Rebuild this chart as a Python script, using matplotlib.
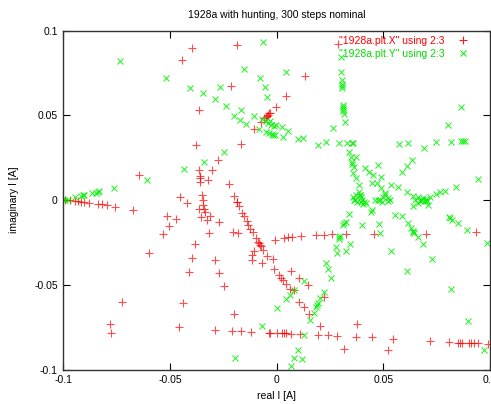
import matplotlib
matplotlib.use("Agg")
import matplotlib.pyplot as plt

title = "1928a with hunting, 300 steps nominal"
xlabel = "real I [A]"
ylabel = "imaginary I [A]"
label_x = "\"1928a.plt.X\" using 2:3"
label_y = "\"1928a.plt.Y\" using 2:3"
xticks = [-0.1, -0.05, 0, 0.05, 0.1]
xticklabels = ["-0.1", "-0.05", "0", "0.05", "0.1"]
yticks = [-0.1, -0.05, 0, 0.05, 0.1]
yticklabels = ["-0.1", "-0.05", "0", "0.05", "0.1"]

# series X (red +)
x_re = [-0.0395, -0.0188, -0.0443, -0.0216, -0.0363, -0.0058, -0.0047, -0.0036, -0.0003, -0.0104,
        -0.0074, -0.0376, -0.0166, -0.0274, -0.0364, -0.0302, -0.0647, -0.0361, -0.0358, -0.0358,
        -0.0323, -0.0225, -0.0199, -0.0455, -0.0349, -0.0346, -0.0421, -0.0186, 0.0286, 0.0133,
        0.0044, -0.0031, -0.0993, -0.0969, -0.0946, -0.0930, -0.0919, -0.0903, -0.0879, -0.0839,
        -0.0820, -0.0797, -0.0757, -0.0675, -0.0516, -0.0505, -0.0533, -0.0597, -0.0725, -0.0783,
        -0.0778, -0.0346, -0.0341, -0.0336, -0.0363, -0.0474, -0.0356, -0.0328, -0.0314, -0.0271,
        -0.0316, -0.0384, -0.0398, -0.0288, -0.0413, -0.0269, -0.0248, -0.0441, -0.0457, -0.0291,
        -0.0200, -0.0208, -0.0166, -0.0122, -0.0038, -0.0186, -0.0177, -0.0161, -0.0152, -0.0141,
        -0.0133, -0.0123, -0.0113, -0.0097, -0.0088, -0.0083, -0.0078, -0.0074, -0.0064, -0.0203,
        -0.0183, -0.0108, -0.0117, -0.0114, -0.0070, -0.0045, -0.0017, -0.0011, -0.0007, 0.0034,
        0.0054, 0.0073, 0.0113, 0.0186, 0.0222, 0.0258, 0.0326, 0.0458, 0.0011, 0.0020,
        0.0028, 0.0042, 0.0067, 0.0106, 0.0145, 0.0061, 0.0083, 0.0106, 0.0128, 0.0151,
        0.0223, 0.0203, 0.0375, -0.0031, 0.0003, 0.0025, 0.0034, 0.0044, 0.0067, 0.0109,
        0.0195, 0.0239, 0.0281, 0.0370, 0.0448, 0.0314, 0.0522, 0.0545, 0.0699, 0.0933,
        0.0720, 0.0808, 0.0851, 0.0859, 0.0869, 0.0902, 0.0911, 0.0925, 0.0945, 0.0989,
        -0.0052, -0.0041]
x_im = [0.0896, 0.0913, 0.0828, 0.0673, 0.0531, 0.0484, 0.0499, 0.0512, 0.0548, 0.0420,
        0.0459, 0.0323, 0.0331, 0.0239, 0.0177, 0.0175, 0.0149, 0.0143, 0.0133, 0.0109,
        0.0116, 0.0096, 0.0025, 0.0016, 0.0030, 0.0002, -0.0018, -0.0009, 0.0923, 0.0730,
        0.0616, 0.0514, 0.0000, 0.0002, -0.0004, -0.0008, -0.0012, -0.0012, -0.0016, -0.0022,
        -0.0025, -0.0031, -0.0041, -0.0061, -0.0096, -0.0155, -0.0201, -0.0313, -0.0600, -0.0734,
        -0.0787, -0.0030, -0.0053, -0.0071, -0.0055, -0.0110, -0.0102, -0.0120, -0.0093, -0.0128,
        -0.0197, -0.0262, -0.0344, -0.0352, -0.0425, -0.0431, -0.0509, -0.0610, -0.0751, -0.0767,
        -0.0675, -0.0772, -0.0775, -0.0777, -0.0783, -0.0012, -0.0037, -0.0077, -0.0093, -0.0122,
        -0.0146, -0.0168, -0.0191, -0.0224, -0.0245, -0.0254, -0.0266, -0.0273, -0.0297, -0.0191,
        -0.0197, -0.0303, -0.0326, -0.0352, -0.0370, -0.0331, -0.0348, -0.0406, -0.0238, -0.0224,
        -0.0220, -0.0218, -0.0211, -0.0205, -0.0205, -0.0202, -0.0199, -0.0199, -0.0441, -0.0460,
        -0.0472, -0.0494, -0.0421, -0.0462, -0.0500, -0.0525, -0.0533, -0.0600, -0.0633, -0.0673,
        -0.0574, -0.0742, -0.0732, -0.0787, -0.0785, -0.0787, -0.0787, -0.0787, -0.0789, -0.0789,
        -0.0795, -0.0797, -0.0801, -0.0809, -0.0807, -0.0881, -0.0885, -0.0821, -0.0199, -0.0191,
        -0.0834, -0.0838, -0.0842, -0.0842, -0.0842, -0.0844, -0.0844, -0.0844, -0.0846, -0.0848,
        0.0491, 0.0505]

# series Y (green x)
y_re = [-0.0733, -0.0518, -0.0607, -0.0761, -0.0839, -0.0847, -0.0832, -0.0867, -0.0910, -0.0916,
        -0.0903, -0.0946, -0.0993, -0.1000, -0.0978, -0.0064, -0.0152, -0.0078, -0.0055, -0.0045,
        -0.0405, -0.0346, -0.0267, -0.0288, -0.0238, -0.0166, -0.0198, -0.0171, -0.0143, -0.0104,
        -0.0082, -0.0069, -0.0050, -0.0039, -0.0027, -0.0014, -0.0048, -0.0034, -0.0024, -0.0008,
        -0.0245, -0.0342, -0.0435, 0.0303, 0.0303, 0.0304, 0.0305, 0.0305, 0.0305, 0.0312,
        0.0312, 0.0312, 0.0312, 0.0316, 0.0320, 0.0044, -0.0031, -0.0001, 0.0023, 0.0054,
        -0.0017, 0.0032, 0.0098, 0.0125, 0.0192, 0.0230, 0.0265, 0.0294, 0.0330, 0.0352,
        0.0360, 0.0341, 0.0349, 0.0373, 0.0352, 0.0353, 0.0361, 0.0358, 0.0373, 0.0385,
        0.0388, 0.0391, 0.0395, 0.0400, 0.0414, 0.0433, 0.0453, 0.0445, 0.0477, 0.0469,
        0.0490, 0.0508, 0.0500, 0.0523, 0.0536, 0.0574, 0.0617, 0.0689, 0.0748, 0.0815,
        0.0865, 0.0875, 0.0883, 0.0801, 0.0862, 0.0586, 0.0610, 0.0636, 0.0489, 0.0570,
        0.0609, 0.0640, 0.0664, 0.0680, 0.0687, 0.0703, 0.0719, 0.0748, 0.0766, 0.0789,
        0.0841, 0.0945, 0.0461, 0.0523, 0.0531, 0.0648, 0.0672, 0.0695, 0.0664, 0.0711,
        0.0640, 0.0556, 0.0587, 0.0480, 0.0484, 0.0614, 0.0628, 0.0638, 0.0641, 0.0645,
        0.0661, 0.0684, 0.0809, 0.0812, 0.0823, 0.0849, 0.0894, 0.0986, 0.0537, 0.0729,
        0.0613, 0.0819, 0.0898, 0.0972, 0.0367, 0.0358, 0.0376, 0.0372, 0.0391, 0.0409,
        0.0405, 0.0419, 0.0441, 0.0447, 0.0474, 0.0484, 0.0494, 0.0508, 0.0340, 0.0316,
        0.0323, 0.0311, 0.0399, 0.0293, 0.0290, 0.0297, 0.0276, 0.0285, 0.0325, 0.0344,
        0.0229, 0.0239, 0.0255, 0.0221, 0.0203, 0.0189, 0.0184, 0.0194, 0.0173, 0.0158,
        0.0126, 0.0082, 0.0062, 0.0042, 0.0000, 0.0127, 0.0098, 0.0083, 0.0117, 0.0068,
        -0.0070, -0.0193, 0.0678, 0.0700, 0.0362, 0.0395]
y_im = [0.0823, 0.0718, 0.0119, 0.0069, 0.0047, 0.0041, 0.0051, 0.0040, 0.0028, 0.0022,
        0.0032, 0.0016, 0.0002, 0.0006, 0.0003, 0.0932, 0.0773, 0.0718, 0.0669, 0.0607,
        0.0659, 0.0632, 0.0670, 0.0599, 0.0554, 0.0533, 0.0499, 0.0475, 0.0452, 0.0499,
        0.0418, 0.0480, 0.0466, 0.0455, 0.0446, 0.0436, 0.0403, 0.0396, 0.0390, 0.0387,
        0.0285, 0.0226, 0.0184, 0.0847, 0.0759, 0.0710, 0.0685, 0.0673, 0.0659, 0.0562,
        0.0549, 0.0537, 0.0524, 0.0508, 0.0460, 0.0759, 0.0466, 0.0441, 0.0431, 0.0407,
        0.0385, 0.0373, 0.0360, 0.0368, 0.0326, 0.0341, 0.0424, 0.0335, 0.0338, 0.0335,
        0.0335, 0.0285, 0.0257, 0.0257, 0.0227, 0.0215, 0.0193, 0.0161, 0.0129, 0.0089,
        0.0050, 0.0032, 0.0018, 0.0003, 0.0188, 0.0168, 0.0148, 0.0100, 0.0205, 0.0099,
        0.0069, 0.0040, 0.0019, 0.0010, 0.0092, 0.0332, 0.0335, 0.0306, 0.0341, 0.0345,
        0.0348, 0.0348, 0.0348, 0.0442, 0.0547, 0.0164, 0.0201, 0.0237, 0.0134, 0.0075,
        0.0047, 0.0027, 0.0018, 0.0002, 0.0010, -0.0003, 0.0021, 0.0037, 0.0045, 0.0056,
        0.0080, 0.0124, 0.0002, -0.0004, 0.0000, 0.0002, -0.0006, -0.0006, -0.0018, -0.0028,
        -0.0035, -0.0087, -0.0093, -0.0142, -0.0196, -0.0136, -0.0165, -0.0181, -0.0189, -0.0195,
        -0.0220, -0.0261, -0.0099, -0.0106, -0.0116, -0.0136, -0.0175, -0.0254, -0.0300, -0.0349,
        -0.0418, -0.0524, -0.0713, -0.0884, 0.0001, 0.0018, -0.0009, 0.0030, 0.0030, -0.0012,
        -0.0024, -0.0018, -0.0068, -0.0059, 0.0002, 0.0000, -0.0012, 0.0030, -0.0083, -0.0137,
        -0.0127, -0.0148, -0.0146, -0.0218, -0.0230, -0.0209, -0.0276, -0.0312, -0.0300, -0.0258,
        -0.0370, -0.0407, -0.0459, -0.0542, -0.0580, -0.0619, -0.0632, -0.0605, -0.0666, -0.0708,
        -0.0479, -0.0533, -0.0562, -0.0586, -0.0639, -0.0796, -0.0885, -0.0932, -0.0940, -0.0978,
        -0.0741, -0.0931, 0.0000, 0.0008, 0.0000, -0.0010]

plt.rcParams['font.family'] = ['Liberation Sans', 'DejaVu Sans']
fig = plt.figure(figsize=(4.91, 4.04), dpi=100)
ax = fig.add_axes([63.3 / 491, 34.5 / 404, 426.7 / 491, 338.8 / 404])

ax.plot(x_re, x_im, linestyle='none', marker='+', markersize=5.2, markeredgewidth=0.8,
        color='#ff0000', alpha=0.7, label=label_x)
ax.plot(y_re, y_im, linestyle='none', marker='x', markersize=4.5, markeredgewidth=0.8,
        color='#00ee00', alpha=0.8, label=label_y)

ax.set_xlim(-0.1, 0.1)
ax.set_ylim(-0.1, 0.1)
ax.set_xticks(xticks)
ax.set_xticklabels(xticklabels)
ax.set_yticks(yticks)
ax.set_yticklabels(yticklabels)
ax.tick_params(direction='in', top=True, right=True, length=5, width=0.8,
               labelsize=7.5, colors='black', pad=4)
for s in ax.spines.values():
    s.set_linewidth(1.0)
    s.set_color('#333333')

ax.set_title(title, fontsize=7.5, pad=9)
ax.set_xlabel(xlabel, fontsize=7.5, labelpad=4)
ax.set_ylabel(ylabel, fontsize=7.5, labelpad=11)

leg = ax.legend(loc='upper right', bbox_to_anchor=(1 - 14 / 426.7, 1.0), frameon=False,
                markerfirst=False, fontsize=7.5, handlelength=1.5, handletextpad=1.0,
                borderaxespad=0.2, labelspacing=0.3, borderpad=0.3)
for txt, col in zip(leg.get_texts(), ['#ff0000', '#00dd00']):
    txt.set_color(col)
for h in leg.legend_handles:
    h.set_alpha(0.9)

fig.savefig("out.png", dpi=100)
